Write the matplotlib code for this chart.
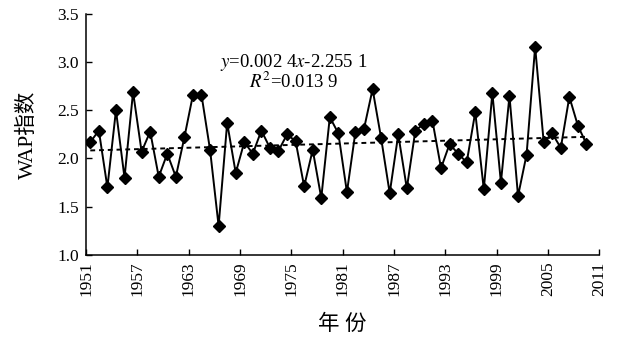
import numpy as np
import matplotlib
matplotlib.use('Agg')
import matplotlib.pyplot as plt

plt.rcParams['font.family'] = ['Liberation Serif', 'Noto Sans CJK SC']
plt.rcParams['mathtext.fontset'] = 'stix'

# annual WAP index, 1951-2009
years = np.arange(1951, 2010)
wap = [2.17, 2.29, 1.70, 2.50, 1.80, 2.69, 2.07, 2.28, 1.81, 2.05,
       1.81, 2.22, 2.66, 2.66, 2.09, 1.30, 2.37, 1.85, 2.17, 2.05,
       2.29, 2.11, 2.08, 2.25, 2.18, 1.71, 2.09, 1.59, 2.43, 2.26,
       1.65, 2.28, 2.31, 2.72, 2.21, 1.64, 2.25, 1.69, 2.29, 2.36,
       2.39, 1.90, 2.15, 2.05, 1.96, 2.48, 1.68, 2.68, 1.75, 2.65,
       1.61, 2.04, 3.16, 2.17, 2.26, 2.11, 2.64, 2.34, 2.15]
xticks = np.arange(1951, 2012, 6)

wap = np.array(wap)
# points sit in the middle of each year's slot
xpos = years + 0.5
k, b = np.polyfit(xpos, wap, 1)

fig = plt.figure(figsize=(6.17, 3.42), dpi=100)
ax = fig.add_axes([0.1394, 0.255, 0.8319, 0.704])

ax.plot(xpos, wap, color='black', lw=1.4, marker='D', ms=6, mfc='black', mec='black')
ax.plot(xpos, k * xpos + b, color='black', lw=1.4, ls=(0, (2.5, 2)))

ax.set_xlim(1951, 2011)
ax.set_ylim(1.0, 3.5)
ax.set_xticks(xticks)
ax.set_xticklabels([str(t) for t in xticks], rotation=90)
ax.set_yticks(np.arange(1.0, 3.51, 0.5))
ax.set_yticklabels(['%.1f' % v for v in np.arange(1.0, 3.51, 0.5)])
ax.tick_params(direction='in', length=4, width=1, labelsize=12.5, pad=5)
for side in ['top', 'right']:
    ax.spines[side].set_visible(False)
for side in ['left', 'bottom']:
    ax.spines[side].set_linewidth(1.1)

ax.text(0.405, 0.80, r'$y$=0.002 4$x$-2.255 1', transform=ax.transAxes,
        ha='center', va='center', fontsize=13.5)
ax.text(0.405, 0.718, r'$R^2$=0.013 9', transform=ax.transAxes,
        ha='center', va='center', fontsize=13.5)

ax.set_ylabel('WAP指数', fontsize=15.5, labelpad=14)
ax.set_xlabel('年 份', fontsize=15.5, labelpad=13)

fig.savefig('out.png', dpi=100)
